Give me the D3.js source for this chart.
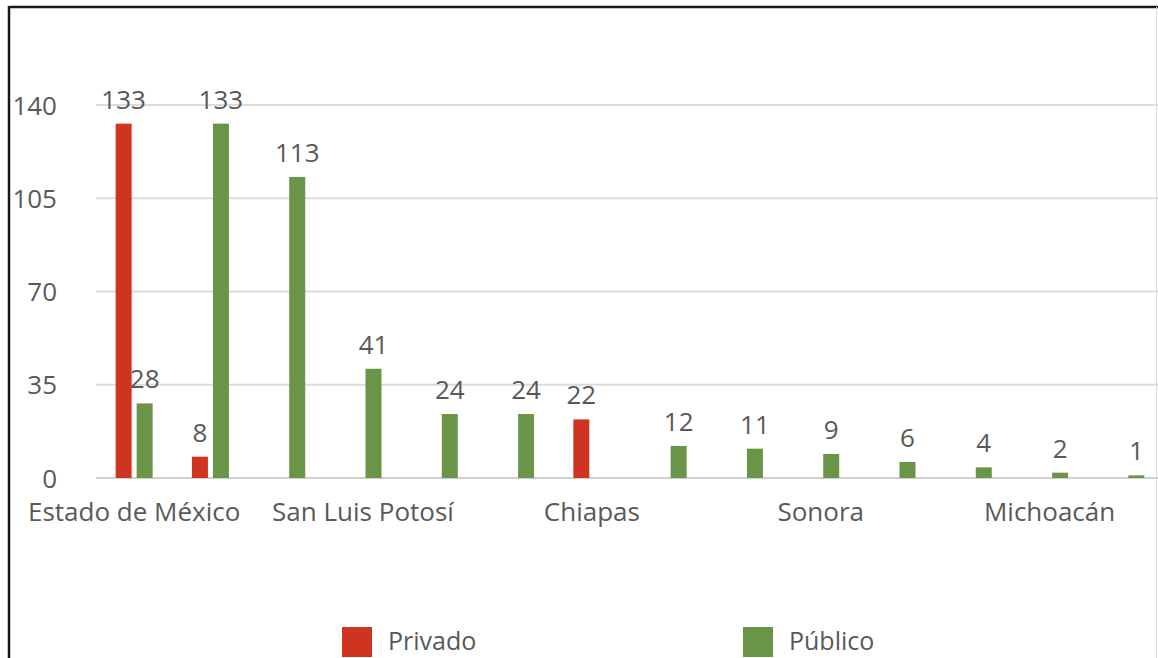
<!DOCTYPE html>
<html>
<head>
<meta charset="utf-8">
<script src="https://cdn.jsdelivr.net/npm/d3@7"></script>
<style>
  html, body { margin: 0; padding: 0; background: #fff; }
  svg { display: block; }
  text { font-family: "Open Sans", sans-serif; fill: #595959; }
</style>
</head>
<body>
<svg id="chart" width="1158" height="658"></svg>
<script>
// ---- data ----
const categories = [
  "Estado de México", "Ciudad de México", "Jalisco",
  "San Luis Potosí", "Puebla", "Veracruz",
  "Chiapas", "Guanajuato", "Oaxaca",
  "Sonora", "Querétaro", "Yucatán",
  "Michoacán", "Guerrero"
];
const shownLabels = ["Estado de México", "San Luis Potosí", "Chiapas", "Sonora", "Michoacán"];
const privado = [133, 8, 0, 0, 0, 0, 22, 0, 0, 0, 0, 0, 0, 0];
const publico = [28, 133, 113, 41, 24, 24, 0, 12, 11, 9, 6, 4, 2, 1];
const seriesNames = ["Privado", "Público"];
const yTicks = [0, 35, 70, 105, 140];

// ---- styles ----
const colors = { "Privado": "#cf3420", "Público": "#6a9548" };

const svg = d3.select("#chart");
const W = 1158, H = 658;

const x = d3.scaleBand().domain(categories).range([96, 1164]).paddingInner(0).paddingOuter(0);
const y = d3.scaleLinear().domain([0, 140]).range([478, 105]);
const barW = 16, gap = 5;
const sub = d3.scaleOrdinal().domain(seriesNames).range([-(barW + gap) / 2, (barW + gap) / 2]);

// gridlines
svg.append("g").selectAll("line").data(yTicks).join("line")
  .attr("x1", 96).attr("x2", W)
  .attr("y1", d => y(d)).attr("y2", d => y(d))
  .attr("stroke", d => d === 0 ? "#d0d0d0" : "#dcdcdc")
  .attr("stroke-width", 2);

// y axis labels
const yAxis = d3.axisLeft(y).tickValues(yTicks).tickSize(0).tickPadding(0);
const gy = svg.append("g").attr("transform", "translate(57,0)").call(yAxis);
gy.select(".domain").remove();
gy.selectAll("text").style("font-size", "26px").style("font-family", "Open Sans").attr("fill", "#595959").attr("dy", "0.35em");

// x axis labels
const xAxis = d3.axisBottom(x).tickSize(0).tickPadding(0)
  .tickFormat(d => shownLabels.includes(d) ? d : "");
const gx = svg.append("g").attr("transform", "translate(0,503)").call(xAxis);
gx.select(".domain").remove();
gx.selectAll("text").style("font-size", "26px").style("font-family", "Open Sans").attr("fill", "#595959").attr("dy", "0.71em");

// bars
const rows = [];
categories.forEach((c, i) => {
  rows.push({ cat: c, s: "Privado", v: privado[i] });
  rows.push({ cat: c, s: "Público", v: publico[i] });
});
const nonZero = rows.filter(r => r.v > 0);

svg.append("g").selectAll("rect").data(nonZero).join("rect")
  .attr("x", d => x(d.cat) + x.bandwidth() / 2 + sub(d.s) - barW / 2)
  .attr("width", barW)
  .attr("y", d => y(d.v))
  .attr("height", d => y(0) - y(d.v))
  .attr("fill", d => colors[d.s]);

svg.append("g").selectAll("text").data(nonZero).join("text")
  .attr("x", d => x(d.cat) + x.bandwidth() / 2 + sub(d.s))
  .attr("y", d => y(d.v) - 15)
  .attr("text-anchor", "middle")
  .style("font-size", "26px")
  .text(d => d.v);

// legend
const legX = { "Privado": 342, "Público": 743 };
const leg = svg.append("g").selectAll("g").data(seriesNames).join("g")
  .attr("transform", d => `translate(${legX[d]},627)`);
leg.append("rect").attr("width", 30).attr("height", 30).attr("fill", d => colors[d]);
leg.append("text").attr("x", 46).attr("y", 23).style("font-size", "25px").text(d => d);

// frame
svg.append("line").attr("x1", 9).attr("x2", W).attr("y1", 7).attr("y2", 7).attr("stroke", "#1a1a1a").attr("stroke-width", 2.5);
svg.append("line").attr("x1", 9).attr("x2", 9).attr("y1", 6).attr("y2", H).attr("stroke", "#1a1a1a").attr("stroke-width", 2.5);
svg.append("line").attr("x1", 1156.5).attr("x2", 1156.5).attr("y1", 7).attr("y2", H).attr("stroke", "#dddddd").attr("stroke-width", 1);
</script>
</body>
</html>
